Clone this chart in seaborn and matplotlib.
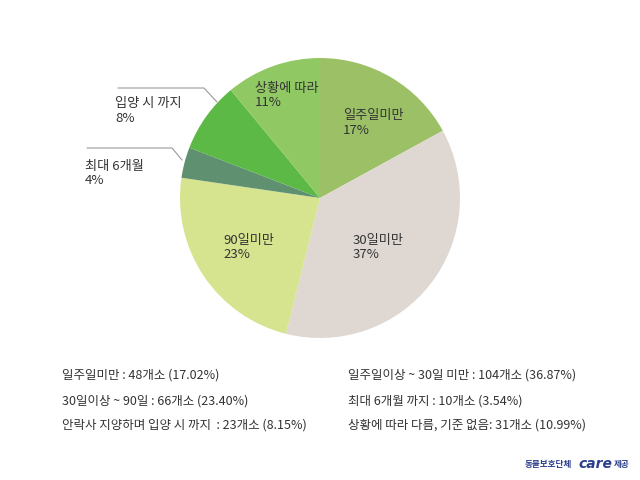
import matplotlib
matplotlib.use("Agg")
import matplotlib.pyplot as plt
import seaborn as sns

# data
labels = ["일주일미만", "30일미만", "90일미만", "최대 6개월", "입양 시 까지", "상황에 따라"]
values = [17.02, 36.87, 23.40, 3.54, 8.15, 10.99]
pct_labels = ["17%", "37%", "23%", "4%", "8%", "11%"]
colors = ["#9cc066", "#dfd8d2", "#d6e38f", "#5f9070", "#5cb946", "#90c864"]
notes_left = ["일주일미만 : 48개소 (17.02%)",
              "30일이상 ~ 90일 : 66개소 (23.40%)",
              "안락사 지양하며 입양 시 까지  : 23개소 (8.15%)"]
notes_right = ["일주일이상 ~ 30일 미만 : 104개소 (36.87%)",
               "최대 6개월 까지 : 10개소 (3.54%)",
               "상황에 따라 다름, 기준 없음: 31개소 (10.99%)"]

sns.set_theme(style="white")
plt.rcParams['font.family'] = ['Noto Sans CJK KR', 'DejaVu Sans']

fig = plt.figure(figsize=(6.4, 4.8), dpi=100)
ax = fig.add_axes([0, 0, 1, 1])

H = 480
ax.pie(values, colors=colors, startangle=90, counterclock=False,
       center=(320, H - 198), radius=140, frame=True,
       wedgeprops=dict(linewidth=0))
ax.set_xlim(0, 640)
ax.set_ylim(0, 480)
ax.set_aspect('equal')
ax.axis('off')

txt_col = "#333333"
fs = 9.5
# label positions (top-left of text, pixel coords from top)
pos = [(343, 109), (353, 234), (223, 234), (85, 160), (115, 97), (255, 82)]
for (x, y), lab, p in zip(pos, labels, pct_labels):
    ax.text(x, H - y, lab + "\n" + p, fontsize=fs, color=txt_col,
            va='top', ha='left', linespacing=1.15)

# leader lines
lc = "#999999"
ax.plot([118, 204, 217], [H - 88, H - 88, H - 102], color=lc, lw=0.8)
ax.plot([87, 172, 182], [H - 148, H - 148, H - 160], color=lc, lw=0.8)

# notes
ys = [375, 401, 425]
for y, t in zip(ys, notes_left):
    ax.text(62, H - y, t, fontsize=9, color=txt_col, va='center', ha='left')
for y, t in zip(ys, notes_right):
    ax.text(348, H - y, t, fontsize=9, color=txt_col, va='center', ha='left')

# source
src_col = "#2b3f8c"
ax.text(525, H - 465, "동물보호단체", fontsize=6.2, color=src_col, va='center',
        ha='left', fontweight='bold')
ax.text(578, H - 464, "care", fontsize=10, color=src_col, va='center',
        ha='left', fontweight='bold', fontstyle='italic', family='DejaVu Sans')
ax.text(614, H - 465, "제공", fontsize=6.2, color=src_col, va='center',
        ha='left', fontweight='bold')

fig.savefig("out.png", dpi=100)
